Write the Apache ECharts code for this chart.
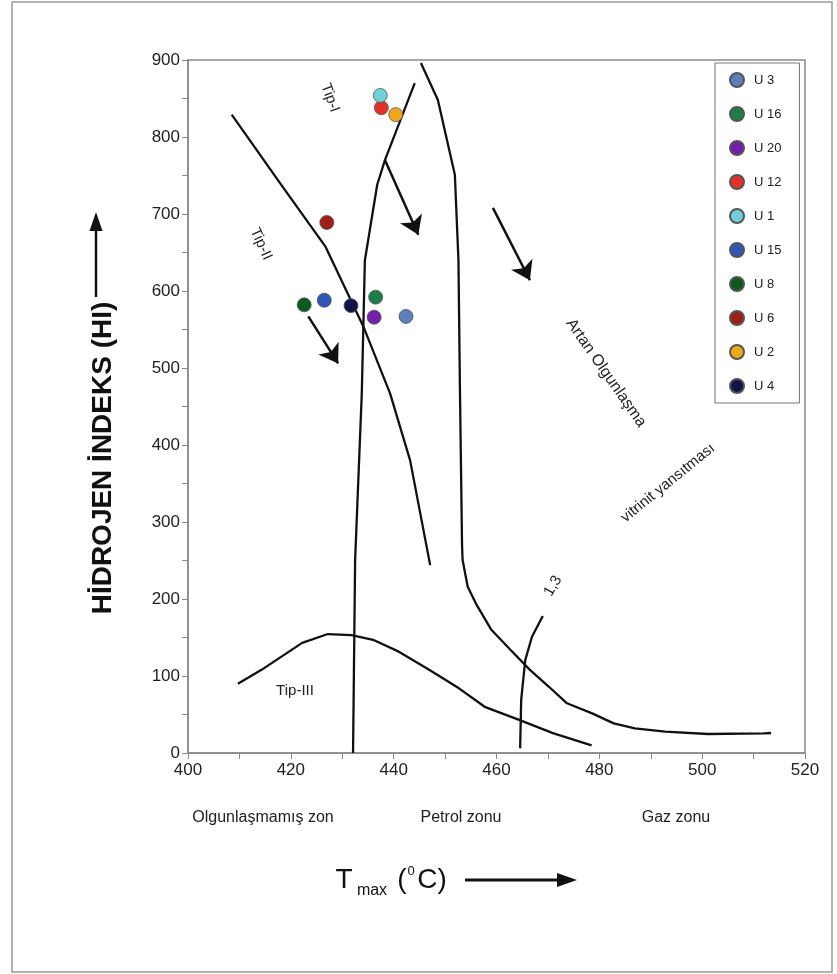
<!DOCTYPE html>
<html>
<head>
<meta charset="utf-8">
<script src="https://cdn.jsdelivr.net/npm/echarts@6/dist/echarts.min.js"></script>
<style>
  html, body { margin: 0; padding: 0; background: #fff; }
  #chart { width: 837px; height: 974px; }
</style>
</head>
<body>
<div id="chart"></div>
<script>
// sample points (Tmax, HI)
const sampleNames = ['U 3', 'U 16', 'U 20', 'U 12', 'U 1', 'U 15', 'U 8', 'U 6', 'U 2', 'U 4']
const sampleTmax = [442.4, 436.5, 436.2, 437.6, 437.4, 426.5, 422.6, 427.0, 440.4, 431.7]
const sampleHI = [567, 592, 566, 838, 854, 588, 582, 689, 829, 581]
const sampleColors = ['#5b7fb8', '#1d7d48', '#7420ad', '#e5302a', '#6fd0dc', '#3056b8', '#0d5a1e', '#a01d18', '#f0a818', '#13134c']

// kerogen / maturity boundary curves
const tip1Line = [[432.1, 0], [432.5, 250], [433.8, 467], [434.4, 640], [436.8, 738], [438.3, 770], [444.1, 870]]
const tip2Line = [[408.5, 829], [417.9, 740], [426.7, 658], [434.1, 554], [439.3, 467], [443.2, 380], [447.1, 244]]
const gasLine = [[445.3, 896], [448.6, 848], [451.9, 751], [452.6, 640], [452.9, 467], [453.3, 270], [453.4, 251],
  [454.4, 216], [456.0, 194], [459.0, 160], [462.7, 134], [466.5, 108], [470.2, 86], [473.6, 65], [478.6, 51.5],
  [482.8, 38.5], [486.9, 32], [492.8, 27.7], [501.1, 24.7], [512.0, 25.5], [513.4, 26]]
const tip3Line = [[409.7, 90], [414.3, 108], [422.2, 143], [427.2, 154.5], [431.8, 153], [436.0, 147], [441.0, 131.6],
  [446.9, 108], [452.7, 84], [457.7, 60], [464.4, 43], [471.1, 25.5], [478.5, 10]]
const roLine = [[464.6, 6], [464.8, 69], [465.6, 121], [466.9, 151], [469.0, 178]]

// arrows inside the plot: [start, end]
const plotArrows = [
  [[438.3, 770], [444.8, 673]],
  [[459.3, 708], [466.5, 614]],
  [[423.4, 567], [429.2, 506]]
]

const chart = echarts.init(document.getElementById('chart'))

const curve = (data) => ({
  type: 'line',
  data: data,
  symbol: 'none',
  silent: true,
  lineStyle: { color: '#111', width: 2.3 },
  z: 2
})

const font = 'Liberation Sans, Arial, sans-serif'
const deg = Math.PI / 180

const txt = (text, x, y, size, rot, extra) => ({
  type: 'text',
  x: x, y: y,
  rotation: rot * deg,
  style: Object.assign({
    text: text, fill: '#222', font: size + 'px ' + font,
    align: 'center', verticalAlign: 'middle'
  }, extra || {})
})

chart.setOption({
  animation: false,
  grid: {
    left: 188, top: 60, width: 617, height: 693,
    show: true, borderColor: '#8a8a8a', borderWidth: 1.5, backgroundColor: 'transparent'
  },
  legend: {
    orient: 'vertical',
    left: 715, top: 63,
    padding: [9, 18, 9, 14],
    itemWidth: 14, itemHeight: 14, itemGap: 18,
    icon: 'circle',
    borderColor: '#777', borderWidth: 1, backgroundColor: '#fff',
    textStyle: { fontFamily: font, fontSize: 13, color: '#222', padding: [0, 0, 0, 5] },
    data: sampleNames
  },
  xAxis: {
    type: 'value', min: 400, max: 520, interval: 10,
    splitLine: { show: false },
    axisLine: { lineStyle: { color: '#8a8a8a', width: 1.5 } },
    axisTick: { length: 6, lineStyle: { color: '#8a8a8a' } },
    axisLabel: {
      margin: 9, fontFamily: font, fontSize: 17, color: '#222',
      formatter: v => (v % 20 === 0 ? String(v) : '')
    }
  },
  yAxis: {
    type: 'value', min: 0, max: 900, interval: 50,
    splitLine: { show: false },
    axisLine: { lineStyle: { color: '#8a8a8a', width: 1.5 } },
    axisTick: { length: 6, lineStyle: { color: '#8a8a8a' } },
    axisLabel: {
      margin: 8, fontFamily: font, fontSize: 17, color: '#222',
      formatter: v => (v % 100 === 0 ? String(v) : '')
    }
  },
  series: [
    curve(tip1Line),
    curve(tip2Line),
    curve(gasLine),
    curve(tip3Line),
    curve(roLine),
    {
      type: 'scatter',
      data: [],
      silent: true,
      markLine: {
        silent: true,
        symbol: ['none', 'arrow'],
        symbolSize: 18,
        label: { show: false },
        lineStyle: { color: '#111', width: 2.5, type: 'solid' },
        data: plotArrows.map(a => [{ coord: a[0] }, { coord: a[1] }])
      }
    },
    ...sampleNames.map((name, i) => ({
      name: name,
      type: 'scatter',
      symbol: 'circle',
      symbolSize: 14,
      itemStyle: { color: sampleColors[i], borderColor: '#555', borderWidth: 0.8, opacity: 1 },
      data: [[sampleTmax[i], sampleHI[i]]],
      z: 5
    }))
  ],
  graphic: [
    { type: 'rect', shape: { x: 12, y: 2, width: 820, height: 970 }, style: { fill: null, stroke: '#999', lineWidth: 1.5 }, silent: true },
    txt('Tip-I', 330, 98, 15, -70),
    txt('Tip-II', 261, 244, 15, -65),
    txt('Tip-III', 295, 691, 15, 0),
    txt('Artan Olgunlaşma', 606, 373, 16, -55),
    txt('vitrinit yansıtması', 668, 483, 15, 39),
    txt('1,3', 553, 586, 15, 60),
    txt('Olgunlaşmamış zon', 263, 818, 16, 0),
    txt('Petrol zonu', 461, 818, 16, 0),
    txt('Gaz zonu', 676, 818, 16, 0),
    txt('HİDROJEN İNDEKS (HI)', 103, 458, 28, 90, { font: 'bold 28px ' + font, fill: '#111' }),
    // y-axis arrow
    { type: 'line', shape: { x1: 96, y1: 297, x2: 96, y2: 228 }, style: { stroke: '#111', lineWidth: 2.5 } },
    { type: 'polygon', shape: { points: [[96, 212], [89.5, 231], [102.5, 231]] }, style: { fill: '#111' } },
    // x-axis title T_max (0C)
    txt('T', 344, 880, 28, 0, { fill: '#111' }),
    txt('max', 372, 891, 16, 0, { fill: '#111' }),
    txt('(', 402, 880, 28, 0, { fill: '#111' }),
    txt('0', 411, 871, 13, 0, { fill: '#111' }),
    txt('C)', 432, 880, 28, 0, { fill: '#111' }),
    // x-axis arrow
    { type: 'line', shape: { x1: 465, y1: 880, x2: 560, y2: 880 }, style: { stroke: '#111', lineWidth: 3 } },
    { type: 'polygon', shape: { points: [[577, 880], [557, 873], [557, 887]] }, style: { fill: '#111' } }
  ]
})

window.addEventListener('resize', () => chart.resize())
</script>
</body>
</html>
